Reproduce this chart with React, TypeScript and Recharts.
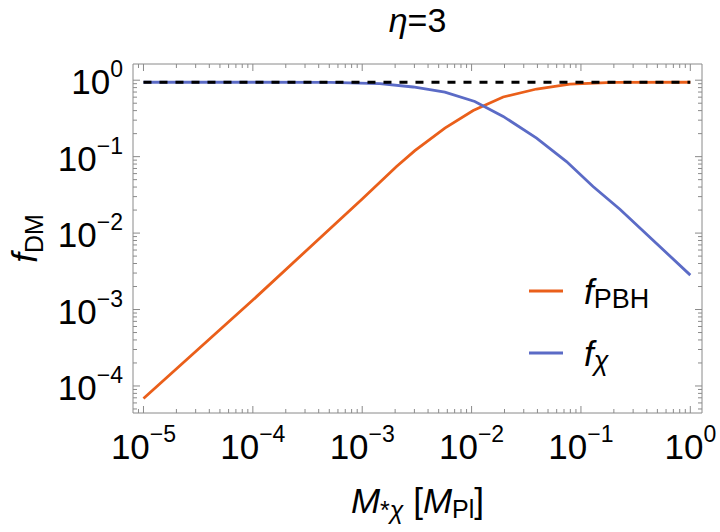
import React from 'react';
import { LineChart, Line, XAxis, YAxis } from 'recharts';

// --- DATA ---
const pbhMass = [1e-5, 1e-4, 1e-3, 2.06e-3, 3.03e-3, 5.7e-3, 1.035e-2, 1.945e-2, 3.93e-2, 7.93e-2, 0.196, 1];
const pbhFrac = [6.84e-5, 1.33e-3, 0.028, 0.0742, 0.12, 0.236, 0.402, 0.603, 0.767, 0.891, 0.936, 0.94];

const chiMass = [1e-5, 1e-4, 5.07e-4, 1.45e-3, 2.92e-3, 5.7e-3, 1.07e-2, 1.945e-2, 3.93e-2, 7.38e-2, 0.129, 0.227, 1];
const chiFrac = [0.94, 0.94, 0.936, 0.9, 0.815, 0.7, 0.527, 0.336, 0.175, 0.0863, 0.0406, 0.0205, 0.00282];

const totalMass = [1e-5, 1];
const totalFrac = [0.94, 0.94];

const xMajorTicks = [1e-5, 1e-4, 1e-3, 1e-2, 1e-1, 1];
const yMajorTicks = [1e-4, 1e-3, 1e-2, 1e-1, 1];
const minorSteps = [2, 3, 4, 5, 6, 7, 8, 9];

// --- LAYOUT / STYLE ---
const W = 720;
const H = 532;
const PLOT = { left: 133, top: 64, right: 702, bottom: 413 };
const X_DOMAIN: [number, number] = [8.02e-6, 1.279];
const Y_DOMAIN: [number, number] = [4.43e-5, 1.629];
const FONT = '"Liberation Sans", Arial, sans-serif';
const FRAME = '#8a8a8a';
const ORANGE = '#EA5F1A';
const BLUE = '#5B6BC6';

const withMinors = (majors: number[], domain: [number, number]) => {
  const all: number[] = [];
  const lo = Math.floor(Math.log10(domain[0]));
  const hi = Math.ceil(Math.log10(domain[1]));
  for (let e = lo; e <= hi; e++) {
    const d = Math.pow(10, e);
    [1, ...minorSteps].forEach((m) => {
      const v = m * d;
      if (v >= domain[0] && v <= domain[1]) all.push(v);
    });
  }
  majors.forEach((m) => { if (!all.some((v) => Math.abs(v / m - 1) < 1e-9)) all.push(m); });
  return all.sort((a, b) => a - b);
};

const xTicks = withMinors(xMajorTicks, X_DOMAIN);
const yTicks = withMinors(yMajorTicks, Y_DOMAIN);

const pbhData = pbhMass.map((m, i) => ({ m, f: pbhFrac[i] }));
const chiData = chiMass.map((m, i) => ({ m, f: chiFrac[i] }));
const totalData = totalMass.map((m, i) => ({ m, f: totalFrac[i] }));

const isMajor = (v: number) => Math.abs(Math.log10(v) - Math.round(Math.log10(v))) < 1e-6;
const expText = (v: number) => {
  const e = Math.round(Math.log10(v));
  return e < 0 ? `\u2212${-e}` : `${e}`;
};

const BottomTick = (props: any) => {
  const { x, payload } = props;
  const v = payload.value;
  const major = isMajor(v);
  return (
    <g>
      <line x1={x} x2={x} y1={PLOT.bottom} y2={PLOT.bottom - (major ? 7 : 4)} stroke={FRAME} />
      {major && (
        <text x={x} y={PLOT.bottom + 46} textAnchor="middle" fontFamily={FONT} fontSize={35} fill="#000">
          10<tspan dy={-17} fontSize={23}>{expText(v)}</tspan>
        </text>
      )}
    </g>
  );
};

const TopTick = (props: any) => {
  const { x, payload } = props;
  const major = isMajor(payload.value);
  return <line x1={x} x2={x} y1={PLOT.top} y2={PLOT.top + (major ? 7 : 4)} stroke={FRAME} />;
};

const LeftTick = (props: any) => {
  const { y, payload } = props;
  const v = payload.value;
  const major = isMajor(v);
  return (
    <g>
      <line x1={PLOT.left} x2={PLOT.left + (major ? 7 : 4)} y1={y} y2={y} stroke={FRAME} />
      {major && (
        <text x={PLOT.left - 10} y={y + 14} textAnchor="end" fontFamily={FONT} fontSize={35} fill="#000">
          10<tspan dy={-17} fontSize={23}>{expText(v)}</tspan>
        </text>
      )}
    </g>
  );
};

const RightTick = (props: any) => {
  const { y, payload } = props;
  const major = isMajor(payload.value);
  return <line x1={PLOT.right} x2={PLOT.right - (major ? 7 : 4)} y1={y} y2={y} stroke={FRAME} />;
};

const Overlay = () => (
  <svg width={W} height={H} style={{ position: 'absolute', left: 0, top: 0, pointerEvents: 'none' }}>
    {/* title */}
    <text x={(PLOT.left + PLOT.right) / 2} y={32} textAnchor="middle" fontFamily={FONT} fontSize={34} fill="#000">
      <tspan fontStyle="italic">η</tspan>=3
    </text>
    {/* x label */}
    <text x={(PLOT.left + PLOT.right) / 2} y={513} textAnchor="middle" fontFamily={FONT} fontSize={35} fill="#000">
      <tspan fontStyle="italic">M</tspan>
      <tspan fontSize={25} dy={6}>*</tspan>
      <tspan fontSize={25} fontStyle="italic">χ</tspan>
      <tspan dy={-6}> [</tspan>
      <tspan fontStyle="italic">M</tspan>
      <tspan fontSize={25} dy={5}>Pl</tspan>
      <tspan dy={-5}>]</tspan>
    </text>
    {/* y label */}
    <text x={37} y={(PLOT.top + PLOT.bottom) / 2} textAnchor="middle" fontFamily={FONT} fontSize={35} fill="#000"
      transform={`rotate(-90, 37, ${(PLOT.top + PLOT.bottom) / 2})`}>
      <tspan fontStyle="italic">f</tspan>
      <tspan fontSize={25} dy={6}>DM</tspan>
    </text>
    {/* legend */}
    <line x1={529} x2={563} y1={291} y2={291} stroke={ORANGE} strokeWidth={3} />
    <text x={584} y={304} fontFamily={FONT} fontSize={35} fill="#000">
      <tspan fontStyle="italic">f</tspan>
      <tspan fontSize={27} dy={4}>PBH</tspan>
    </text>
    <line x1={529} x2={563} y1={353} y2={353} stroke={BLUE} strokeWidth={3} />
    <text x={584} y={366} fontFamily={FONT} fontSize={35} fill="#000">
      <tspan fontStyle="italic">f</tspan>
      <tspan fontSize={27} fontStyle="italic" dy={4}>χ</tspan>
    </text>
  </svg>
);

export default function App() {
  return (
    <div style={{ position: 'absolute', left: 0, top: 0, width: W, height: H, background: '#fff' }}>
      <LineChart
        width={W}
        height={H}
        margin={{ top: PLOT.top - 1, right: W - PLOT.right - 1, bottom: H - PLOT.bottom - 1, left: PLOT.left - 1 }}
      >
        <XAxis xAxisId="bottom" dataKey="m" type="number" scale="log" domain={X_DOMAIN} allowDataOverflow
          ticks={xTicks} interval={0} height={1} tickLine={false} tick={BottomTick}
          axisLine={{ stroke: FRAME }} />
        <XAxis xAxisId="top" orientation="top" dataKey="m" type="number" scale="log" domain={X_DOMAIN} allowDataOverflow
          ticks={xTicks} interval={0} height={1} tickLine={false} tick={TopTick}
          axisLine={{ stroke: FRAME }} />
        <YAxis yAxisId="left" dataKey="f" type="number" scale="log" domain={Y_DOMAIN} allowDataOverflow
          ticks={yTicks} interval={0} width={1} tickLine={false} tick={LeftTick}
          axisLine={{ stroke: FRAME }} />
        <YAxis yAxisId="right" orientation="right" dataKey="f" type="number" scale="log" domain={Y_DOMAIN} allowDataOverflow
          ticks={yTicks} interval={0} width={1} tickLine={false} tick={RightTick}
          axisLine={{ stroke: FRAME }} />
        <Line xAxisId="bottom" yAxisId="left" data={pbhData} dataKey="f" type="linear" stroke={ORANGE}
          strokeWidth={2.8} dot={false} isAnimationActive={false} />
        <Line xAxisId="bottom" yAxisId="left" data={chiData} dataKey="f" type="linear" stroke={BLUE}
          strokeWidth={2.8} dot={false} isAnimationActive={false} />
        <Line xAxisId="top" yAxisId="right" data={totalData} dataKey="f" type="linear" stroke="#000"
          strokeWidth={3} strokeDasharray="8 8" dot={false} isAnimationActive={false} />
      </LineChart>
      <Overlay />
    </div>
  );
}
